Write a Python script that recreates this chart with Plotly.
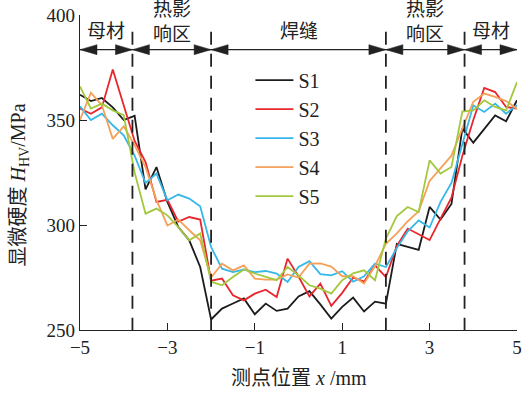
import plotly.graph_objects as go

# Measurement positions across the weld (mm)
positions = [-5.0, -4.75, -4.5, -4.25, -4.0, -3.75, -3.5, -3.25, -3.0, -2.75, -2.5,
             -2.25, -2.0, -1.75, -1.5, -1.25, -1.0, -0.75, -0.5, -0.25, 0.0,
             0.25, 0.5, 0.75, 1.0, 1.25, 1.5, 1.75, 2.0, 2.25, 2.5,
             2.75, 3.0, 3.25, 3.5, 3.75, 4.0, 4.25, 4.5, 4.75, 5.0]

# Microhardness of each sample (MPa)
s1 = [362, 359, 360.5, 356, 350, 352, 317, 327.6, 311, 299, 292.7,
      280, 255, 260.2, 262.6, 265, 257.5, 262.6, 259.1, 260.2, 266,
      268.5, 262.2, 255.4, 261, 265.4, 258.8, 263.5, 262.5, 291, 289.6,
      288.2, 308.6, 302.6, 310, 346, 339.2, 345.9, 352.2, 349.4, 359.4]
s2 = [355.5, 353, 356, 374, 357, 340, 330, 311, 312, 301.6, 303.8,
      302.6, 273.5, 274.5, 266.5, 264.1, 267.3, 269.2, 265.7, 284, 275.5,
      266, 272.1, 261.5, 267.7, 275, 273, 280.8, 275.2, 290, 298.3,
      295.4, 292.8, 303, 313, 333, 350, 365.3, 363.3, 356.2, 355.4]
s3 = [356.5, 350, 353, 347.5, 342.7, 333, 320, 324.5, 311.8, 314.5, 312.6,
      308.9, 289.5, 279.2, 277.6, 278.8, 277.6, 278.1, 276.9, 272.9, 280,
      282.8, 276.6, 276, 278, 273, 275.6, 281.6, 280, 289, 297,
      302.2, 298.8, 311, 320, 338, 357, 353.8, 357.8, 353, 357]
s4 = [350, 363, 357, 341, 347, 338, 327.6, 311.8, 299.8, 302.6, 297.5,
      292.7, 275, 281.6, 278.4, 280.8, 274.5, 274, 274, 276.5, 275,
      281.6, 281.7, 280.2, 275.6, 275.6, 272.1, 280.5, 291, 296, 301.8,
      306.5, 321, 327, 333, 346, 358.7, 362.6, 361, 359, 355.4]
s5 = [366, 355.4, 357.8, 354.6, 352.3, 325, 305.4, 307.8, 304.6, 299, 292.7,
      296, 273, 271.3, 275.2, 278.8, 276.9, 275.2, 273.7, 280, 276,
      271.3, 269.7, 267.3, 273.7, 277, 278.4, 273.7, 293.5, 304.2, 308.6,
      306.2, 330.8, 324.5, 327.6, 354, 354.6, 359.4, 356.2, 354.6, 368]

series_names = ["S1", "S2", "S3", "S4", "S5"]
series_values = [s1, s2, s3, s4, s5]
series_colors = ["#1c1c1c", "#e8262d", "#35b8e8", "#f5a15a", "#a3c83e"]

# Zone boundaries and labels
boundaries = [-5.0, -3.8, -2.0, 2.0, 3.8, 5.0]
zone_labels = ["母材", "热影<br>响区", "焊缝", "热影<br>响区", "母材"]

x_ticks = [-5, -3, -1, 1, 3, 5]
y_ticks = [250, 300, 350, 400]

SERIF = "Liberation Serif, Noto Sans CJK SC, serif"
INK = "#222222"

fig = go.Figure()
for name, vals, color in zip(series_names, series_values, series_colors):
    fig.add_trace(go.Scatter(x=positions, y=vals, mode="lines", name=name,
                             line=dict(color=color, width=1.8)))

shapes = []
annotations = []
arrow_y = 383.5

# Dashed zone separators
for b in boundaries[1:-1]:
    shapes.append(dict(type="line", xref="x", yref="y", x0=b, x1=b, y0=392, y1=250,
                       line=dict(color=INK, width=1.8, dash="13px,9px")))

# Dimension line with arrowheads for each zone
shapes.append(dict(type="line", xref="x", yref="y", x0=boundaries[0], x1=boundaries[-1],
                   y0=arrow_y, y1=arrow_y, line=dict(color=INK, width=1.3)))
for i in range(len(boundaries) - 1):
    left, right = boundaries[i], boundaries[i + 1]
    for anchor, path in ((left, "M0,0 L17,5 L17,-5 Z"), (right, "M0,0 L-17,5 L-17,-5 Z")):
        shapes.append(dict(type="path", xref="x", yref="y", xsizemode="pixel", ysizemode="pixel",
                           xanchor=anchor, yanchor=arrow_y, path=path,
                           fillcolor=INK, line=dict(color=INK, width=0.5)))
    label = zone_labels[i]
    two_line = "<br>" in label
    annotations.append(dict(x=(left + right) / 2, y=1, xref="x", yref="paper",
                            text=label, showarrow=False, yanchor="middle",
                            yshift=-7 if two_line else -16,
                            font=dict(family=SERIF, size=19, color=INK)))

# Axis titles
annotations.append(dict(x=0.5, y=0, xref="paper", yref="paper", text="测点位置 <i>x</i> /mm",
                        showarrow=False, yanchor="middle", yshift=-48,
                        font=dict(family=SERIF, size=20, color=INK)))
annotations.append(dict(x=0, y=0.5, xref="paper", yref="paper",
                        text="显微硬度 <i>H</i><sub>HV</sub>/MPa", textangle=-90,
                        showarrow=False, xanchor="center", xshift=-61, yshift=-13,
                        font=dict(family=SERIF, size=20, color=INK)))

axis_common = dict(showgrid=False, zeroline=False, showline=True, linecolor=INK, linewidth=1.3,
                   ticks="inside", ticklen=7, tickwidth=1.3, tickcolor=INK, automargin=False,
                   tickfont=dict(family=SERIF, size=19, color=INK))

fig.update_layout(
    width=523, height=394,
    margin=dict(l=80, r=6, t=15, b=64),
    paper_bgcolor="white", plot_bgcolor="white",
    xaxis=dict(range=[-5, 5], tickvals=x_ticks, **axis_common),
    yaxis=dict(range=[250, 400], tickvals=y_ticks, **axis_common),
    legend=dict(x=0.39, y=0.855, xanchor="left", yanchor="top", bgcolor="rgba(0,0,0,0)",
                font=dict(family=SERIF, size=20, color=INK), tracegroupgap=0,
                itemwidth=38),
    shapes=shapes, annotations=annotations,
    showlegend=True,
)

fig.write_html("out.html")
